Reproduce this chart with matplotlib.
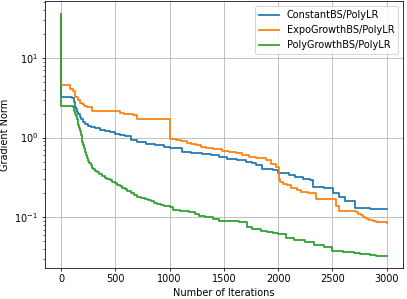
import matplotlib
matplotlib.use("Agg")
import matplotlib.pyplot as plt
import numpy as np

# ConstantBS/PolyLR
const_iter = [0, 1, 100, 105, 115, 128, 137, 146, 160, 174, 188, 201, 225, 247, 280, 311,
              360, 402, 450, 494, 540, 585, 649, 700, 787, 870, 951, 1000, 1116, 1200,
              1299, 1380, 1454, 1527, 1620, 1701, 1760, 1793, 1848, 1950, 2003, 2100, 2158,
              2230, 2296, 2323, 2420, 2506, 2560, 2616, 2707, 2850, 3000]
const_norm = [36, 3.25, 3.25, 3.1, 2.8, 2.44, 2.25, 2.1, 1.95, 1.83, 1.7, 1.58, 1.48, 1.41,
              1.34, 1.3, 1.26, 1.22, 1.17, 1.12, 1.09, 1.06, 0.92, 0.88, 0.84, 0.8, 0.77,
              0.74, 0.66, 0.645, 0.63, 0.6, 0.57, 0.54, 0.52, 0.5, 0.48, 0.45, 0.4, 0.39,
              0.355, 0.34, 0.32, 0.3, 0.29, 0.237, 0.235, 0.2, 0.18, 0.16, 0.13, 0.128,
              0.125]

# ExpoGrowthBS/PolyLR
expo_iter = [0, 1, 82, 110, 128, 155, 175, 192, 215, 240, 284, 540, 580, 659, 704, 1000,
             1060, 1107, 1162, 1200, 1244, 1290, 1335, 1400, 1482, 1550, 1610, 1670, 1729,
             1800, 1884, 1939, 1985, 2010, 2021, 2049, 2080, 2122, 2170, 2213, 2277, 2351,
             2530, 2560, 2717, 2740, 2760, 2780, 2800, 2820, 2840, 2870, 2900, 2950, 3000]
expo_norm = [36, 4.55, 4.1, 3.8, 3.2, 2.98, 2.75, 2.6, 2.5, 2.45, 2.15, 2.05, 2.0, 1.9, 1.73,
             0.97, 0.94, 0.91, 0.86, 0.83, 0.8, 0.77, 0.74, 0.71, 0.68, 0.66, 0.64, 0.6,
             0.57, 0.55, 0.52, 0.47, 0.43, 0.3, 0.28, 0.26, 0.25, 0.235, 0.22, 0.21, 0.2,
             0.167, 0.14, 0.12, 0.115, 0.11, 0.105, 0.1, 0.097, 0.094, 0.092, 0.09, 0.088,
             0.086, 0.085]

# PolyGrowthBS/PolyLR
poly_iter = [0, 1, 100, 108, 115, 122, 130, 137, 145, 152, 160, 167, 175, 182, 190, 197,
             205, 212, 220, 230, 240, 250, 260, 272, 284, 297, 311, 330, 350, 375, 402,
             425, 450, 470, 494, 515, 540, 560, 585, 610, 640, 670, 704, 735, 770, 800,
             832, 860, 887, 920, 950, 1000, 1030, 1100, 1180, 1230, 1271, 1330, 1400,
             1454, 1550, 1637, 1710, 1760, 1838, 1900, 1950, 2003, 2070, 2150, 2250, 2332,
             2420, 2497, 2550, 2600, 2650, 2700, 2750, 2800, 2850, 2900, 2950, 3000]
poly_norm = [36, 2.5, 2.5, 2.42, 2.3, 2.15, 2.0, 1.85, 1.7, 1.55, 1.42, 1.3, 1.2, 1.08, 0.98,
             0.89, 0.8, 0.73, 0.66, 0.6, 0.55, 0.51, 0.48, 0.45, 0.42, 0.4, 0.38, 0.365,
             0.35, 0.33, 0.31, 0.3, 0.29, 0.28, 0.27, 0.257, 0.245, 0.235, 0.225, 0.212,
             0.2, 0.19, 0.18, 0.175, 0.17, 0.165, 0.16, 0.152, 0.145, 0.141, 0.138, 0.135,
             0.122, 0.12, 0.115, 0.11, 0.104, 0.1, 0.095, 0.09, 0.089, 0.087, 0.076, 0.072,
             0.067, 0.066, 0.064, 0.061, 0.054, 0.052, 0.049, 0.045, 0.042, 0.038, 0.0375,
             0.037, 0.036, 0.035, 0.0345, 0.034, 0.0335, 0.033, 0.033, 0.033]

fig, ax = plt.subplots(figsize=(407 / 70, 299 / 70), dpi=70)
ax.plot(const_iter, const_norm, drawstyle='steps-post', lw=1.8, label='ConstantBS/PolyLR')
ax.plot(expo_iter, expo_norm, drawstyle='steps-post', lw=1.8, label='ExpoGrowthBS/PolyLR')
ax.plot(poly_iter, poly_norm, drawstyle='steps-post', lw=1.8, label='PolyGrowthBS/PolyLR')

ax.set_yscale('log')
ax.set_xlabel('Number of Iterations')
ax.set_ylabel('Gradient Norm')
ax.grid(True)
ax.legend(loc='upper right')

fig.subplots_adjust(left=0.11, right=0.99, bottom=0.105, top=0.995)
fig.savefig('out.png')
